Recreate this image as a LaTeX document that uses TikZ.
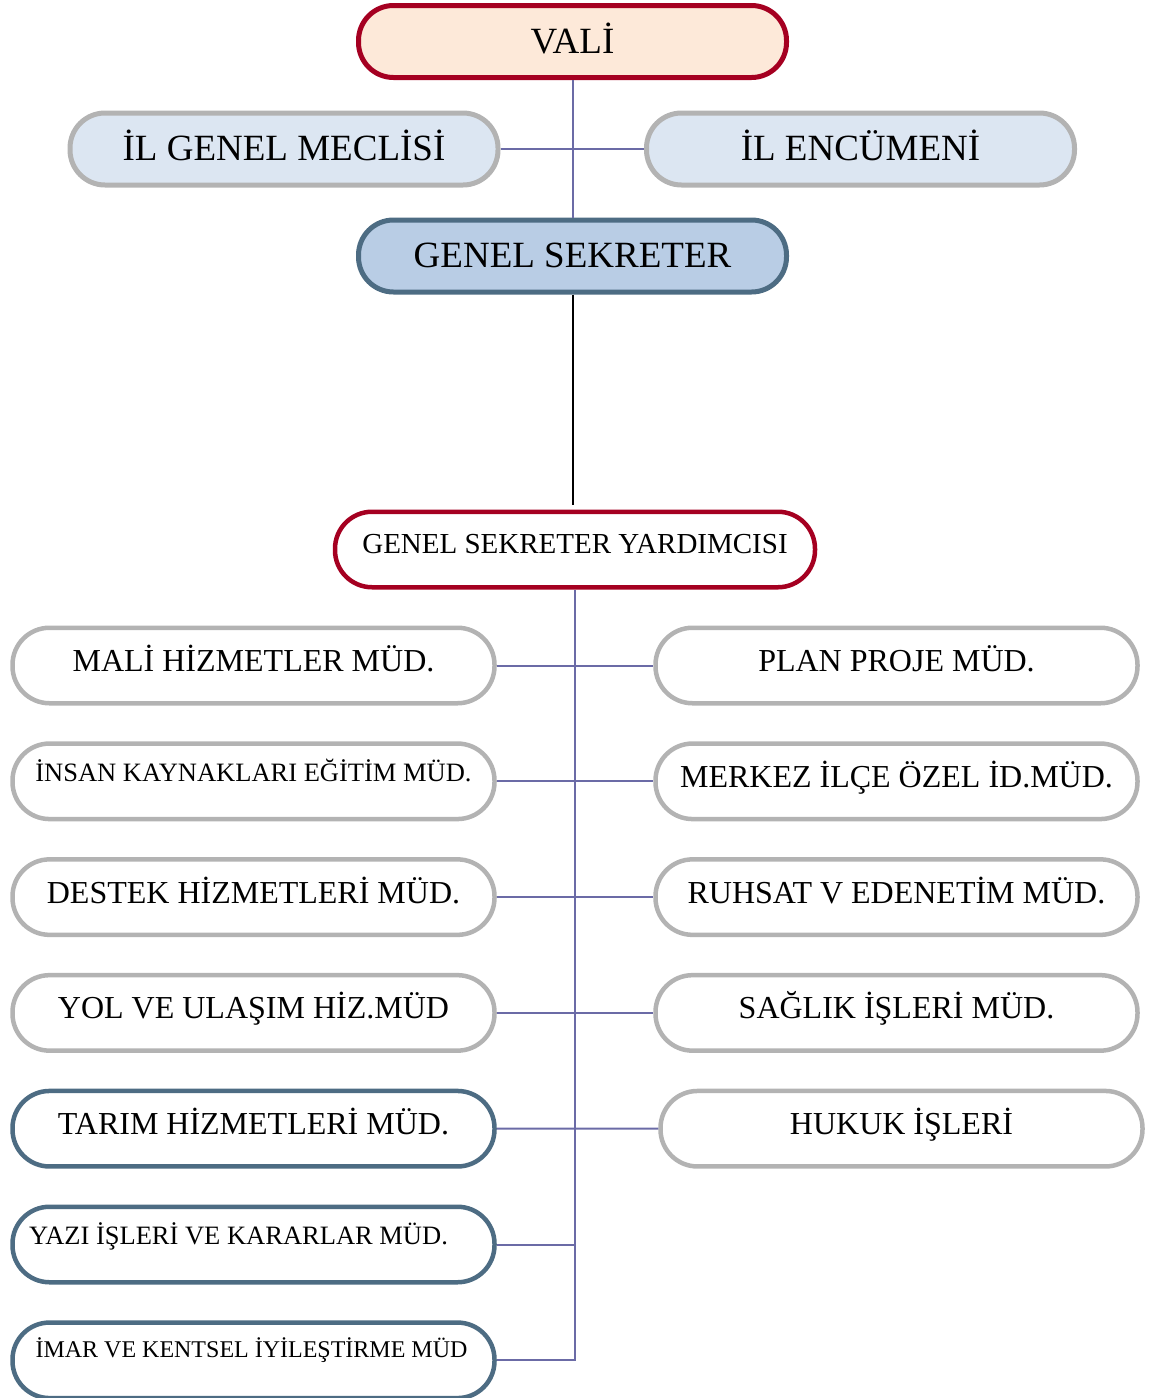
\documentclass[tikz,border=0pt]{standalone}
\usepackage{fontspec}
\setmainfont{Liberation Serif}
\definecolor{darkred}{HTML}{A50021}
\definecolor{peach}{HTML}{FDE9D9}
\definecolor{paleblue}{HTML}{DCE6F2}
\definecolor{midblue}{HTML}{B9CDE5}
\definecolor{slate}{HTML}{4D6C83}
\definecolor{boxgray}{HTML}{B3B3B3}
\definecolor{linkpurple}{HTML}{6B6BA6}

\begin{document}
\begin{tikzpicture}[x=1pt,y=-1pt,
  box/.style={draw, line width=5pt, rounded corners=35pt, minimum width=428pt, minimum height=72pt, inner sep=0pt, text height=27pt, text depth=4pt, font=\fontsize{37}{44}\selectfont},
  unit/.style={draw, line width=4.5pt, fill=white, rounded corners=37pt, minimum width=482pt, minimum height=75.5pt, inner sep=0pt, text height=22pt, text depth=10pt, font=\fontsize{32}{38}\selectfont},
  link/.style={draw=linkpurple, line width=2pt}]
\useasboundingbox (0,0) rectangle (1151,1398);

% top of the chart
\node [box, draw=darkred, fill=peach] (vali) at (572.5,41.5) {VALİ};
\node [box, draw=boxgray, fill=paleblue] (meclis) at (284,149) {İL GENEL MECLİSİ};
\node [box, draw=boxgray, fill=paleblue] (encumen) at (860.5,149) {İL ENCÜMENİ};
\node [box, draw=slate, fill=midblue] (sekreter) at (572.5,256) {GENEL SEKRETER};
\node [unit, draw=darkred, minimum width=480pt, font=\fontsize{29}{34}\selectfont] (yardimci) at (575,549.5) {\raisebox{2.5pt}{GENEL SEKRETER YARDIMCISI}};

\draw [link] (vali) -- (sekreter);
\draw [link] (meclis) -- (encumen);
\draw [line width=2pt, shorten >=5pt] (sekreter.south) -- (sekreter.south |- yardimci.north);

% left column
\foreach \i/\col/\txt in {
  1/boxgray/{MALİ HİZMETLER MÜD.},
  2/boxgray/{\fontsize{26.5}{30}\selectfont\raisebox{6pt}{İNSAN KAYNAKLARI EĞİTİM MÜD.}},
  3/boxgray/{DESTEK HİZMETLERİ MÜD.},
  4/boxgray/{YOL VE ULAŞIM HİZ.MÜD},
  5/slate/{TARIM HİZMETLERİ MÜD.},
  6/slate/{\fontsize{26.5}{30}\selectfont\raisebox{6pt}{YAZI İŞLERİ VE KARARLAR MÜD.\hspace{30pt}}},
  7/slate/{\fontsize{24}{28}\selectfont\raisebox{9pt}{İMAR VE KENTSEL İYİLEŞTİRME MÜD\hspace{4pt}}}}
\node [unit, draw=\col] (l\i) at (253.5,{665.5+115.8*(\i-1)}) {\txt};

% right column
\foreach \i/\txt in {
  1/{PLAN PROJE MÜD.},
  2/{MERKEZ İLÇE ÖZEL İD.MÜD.},
  3/{RUHSAT V EDENETİM MÜD.},
  4/{SAĞLIK İŞLERİ MÜD.}}
\node [unit, draw=boxgray] (r\i) at (896.5,{665.5+115.8*(\i-1)}) {\txt};
\node [unit, draw=boxgray] (r5) at (901.5,1128.7) {HUKUK İŞLERİ};

% connectors
\draw [link] (yardimci.south) -- (yardimci.south |- l7.east) -- (l7.east);
\foreach \i in {1,...,5}
\draw [link] (l\i.east) -- (r\i.west);
\draw [link] (l6.east) -- (l6.east -| yardimci.south);
\end{tikzpicture}
\end{document}
